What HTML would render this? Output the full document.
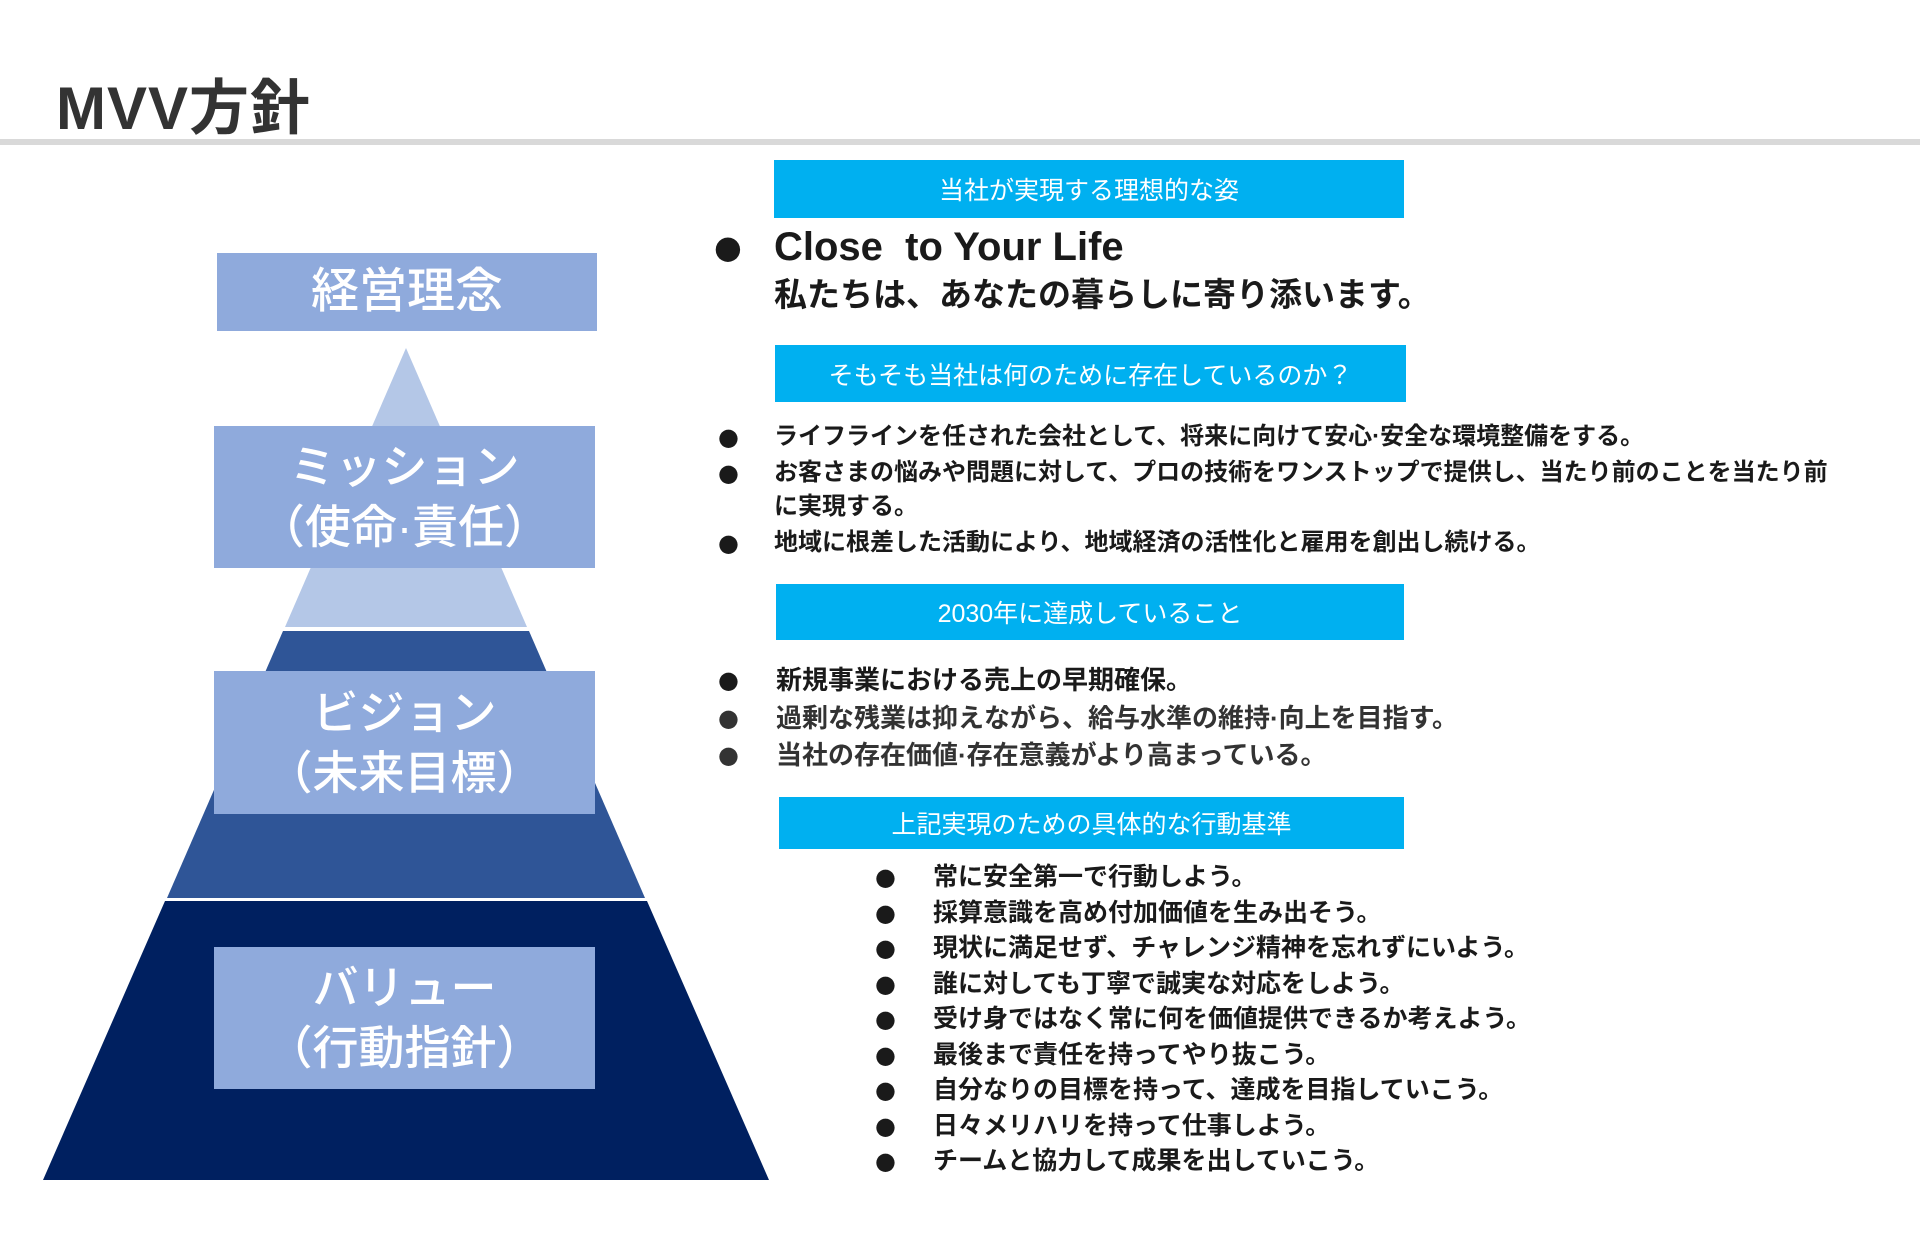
<!DOCTYPE html>
<html><head><meta charset="utf-8"><style>
html,body{margin:0;padding:0;background:#fff;}
body{width:1920px;height:1251px;position:relative;overflow:hidden;font-family:"Liberation Sans","Noto Sans CJK JP",sans-serif;}
.a{position:absolute;}
.title{left:56px;top:60px;font-size:60px;font-weight:bold;color:#333;letter-spacing:1px;}
.line{left:0;top:139px;width:1920px;height:6px;background:#d9d9d9;}
.box{position:absolute;background:#8faadc;color:#fff;display:flex;align-items:center;justify-content:center;text-align:center;font-size:46px;line-height:60px;font-weight:500;}
.hd{position:absolute;background:#00b0f0;color:#fff;display:flex;align-items:center;justify-content:center;font-size:25px;}
.t{position:absolute;font-weight:bold;color:#1a1a1a;white-space:nowrap;}
.b{position:absolute;color:#1a1a1a;font-family:"DejaVu Sans",sans-serif;}
</style></head><body>
<div class="a title">MVV方針</div>
<div class="a line"></div>
<svg class="a" style="left:0;top:0" width="1920" height="1251">
<polygon points="406,348 527,627 285,627" fill="#b4c7e7"/>
<polygon points="283,631 529,631 645,898 167,898" fill="#2f5597"/>
<polygon points="165,901 647,901 769,1180 43,1180" fill="#002060"/>
</svg>
<div class="box" style="left:217px;top:253px;width:380px;height:78px;font-size:48px;">経営理念</div>
<div class="box" style="left:214px;top:426px;width:381px;height:142px;">ミッション<br>（使命·責任）</div>
<div class="box" style="left:214px;top:671px;width:381px;height:143px;">ビジョン<br>（未来目標）</div>
<div class="box" style="left:214px;top:947px;width:381px;height:142px;">バリュー<br>（行動指針）</div>

<div class="hd" style="left:774px;top:160px;width:630px;height:58px;">当社が実現する理想的な姿</div>
<div class="b" style="left:714px;top:228px;font-size:32px;">●</div>
<div class="t" style="left:774px;top:222px;font-size:40px;line-height:50px;">Close&nbsp; to Your Life</div>
<div class="t" style="left:774px;top:272px;font-size:33px;line-height:46px;">私たちは、あなたの暮らしに寄り添います。</div>

<div class="hd" style="left:775px;top:345px;width:631px;height:57px;">そもそも当社は何のために存在しているのか？</div>
<div class="b" style="left:718px;top:420px;font-size:24px;line-height:34px;">●</div>
<div class="t" style="left:774px;top:420px;font-size:24px;line-height:34px;">ライフラインを任された会社として、将来に向けて安心·安全な環境整備をする。</div>
<div class="b" style="left:718px;top:456px;font-size:24px;line-height:34px;">●</div>
<div class="t" style="left:774px;top:456px;font-size:24px;line-height:34px;">お客さまの悩みや問題に対して、プロの技術をワンストップで提供し、当たり前のことを当たり前<br>に実現する。</div>
<div class="b" style="left:718px;top:526px;font-size:24px;line-height:34px;">●</div>
<div class="t" style="left:774px;top:526px;font-size:24px;line-height:34px;">地域に根差した活動により、地域経済の活性化と雇用を創出し続ける。</div>

<div class="hd" style="left:776px;top:584px;width:628px;height:56px;">2030年に達成していること</div>
<div class="b" style="left:718px;top:662px;font-size:24px;line-height:37px;">●</div>
<div class="t" style="left:776px;top:662px;font-size:26px;line-height:37px;">新規事業における売上の早期確保。</div>
<div class="b" style="left:718px;top:700px;font-size:24px;line-height:37px;color:#333;">●</div>
<div class="t" style="left:776px;top:700px;font-size:26px;line-height:37px;color:#333;">過剰な残業は抑えながら、給与水準の維持·向上を目指す。</div>
<div class="b" style="left:718px;top:737px;font-size:24px;line-height:37px;color:#333;">●</div>
<div class="t" style="left:776px;top:737px;font-size:26px;line-height:37px;color:#333;">当社の存在価値·存在意義がより高まっている。</div>

<div class="hd" style="left:779px;top:797px;width:625px;height:52px;">上記実現のための具体的な行動基準</div>
<div class="b" style="left:875px;top:860px;font-size:24px;line-height:35.5px;">●<br>●<br>●<br>●<br>●<br>●<br>●<br>●<br>●</div>
<div class="t" style="left:933px;top:860px;font-size:25px;line-height:35.5px;">常に安全第一で行動しよう。<br>採算意識を高め付加価値を生み出そう。<br>現状に満足せず、チャレンジ精神を忘れずにいよう。<br>誰に対しても丁寧で誠実な対応をしよう。<br>受け身ではなく常に何を価値提供できるか考えよう。<br>最後まで責任を持ってやり抜こう。<br>自分なりの目標を持って、達成を目指していこう。<br>日々メリハリを持って仕事しよう。<br>チームと協力して成果を出していこう。</div>
</body></html>
